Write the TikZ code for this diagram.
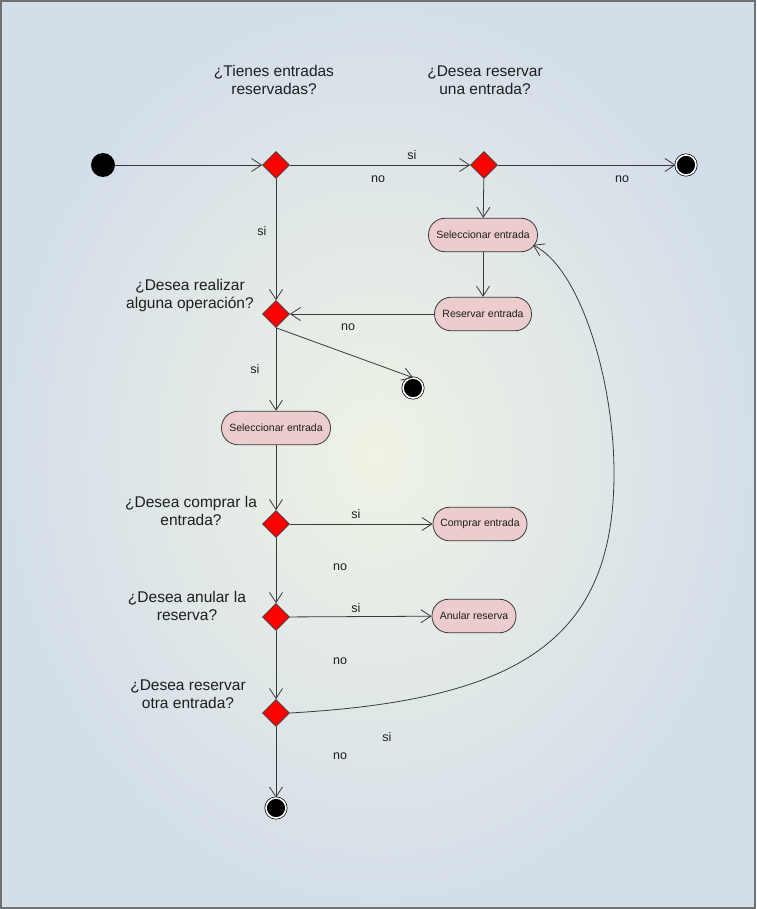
\documentclass[tikz,border=0pt]{standalone}
\usepackage{fontspec}
\setmainfont{Liberation Sans}
\usetikzlibrary{shapes.geometric,arrows.meta,calc}
\definecolor{bgin}{HTML}{EFF3E5}
\definecolor{bgout}{HTML}{D4DEE9}
\definecolor{framec}{HTML}{707070}
\definecolor{boxfill}{HTML}{ECCCCC}
\definecolor{linec}{HTML}{3A3A3A}
\definecolor{txtc}{HTML}{1E1E1E}
\begin{document}
\begin{tikzpicture}[x=1pt,y=-1pt,
  every node/.style={text=txtc},
  act/.style={draw=linec, fill=boxfill, line width=0.8pt, rounded corners=16.5pt,
    minimum height=33.5pt, inner sep=0pt, font=\fontsize{10.5}{12}\selectfont},
  dec/.style={diamond, draw=linec, fill=red, line width=0.6pt, minimum width=27pt,
    minimum height=27pt, inner sep=0pt},
  startnode/.style={circle, fill=black, minimum size=24pt, inner sep=0pt},
  endnode/.style={circle, fill=black, draw=black, line width=0.7pt, double=white,
    double distance=1.6pt, minimum size=20pt, inner sep=0pt},
  flow/.style={draw=linec, line width=0.8pt, -{Straight Barb[length=10pt,width=13pt]}},
  quest/.style={align=center, font=\fontsize{15.5}{18}\selectfont},
  lbl/.style={font=\fontsize{12.5}{14}\selectfont, inner sep=0pt}
]
\useasboundingbox (0,0) rectangle (756,909);
\shade[inner color=bgin, outer color=bgout] (1,1) rectangle (755,908);
\draw[framec, line width=2pt] (1,1) rectangle (755,908);

% questions
\node[quest] (q1) at (274,80) {¿Tienes entradas\\reservadas?};
\node[quest] (q2) at (485,80) {¿Desea reservar\\una entrada?};
\node[quest] (q3) at (190,295) {¿Desea realizar\\alguna operación?};
\node[quest] (q4) at (191,511) {¿Desea comprar la\\entrada?};
\node[quest] (q5) at (187,606) {¿Desea anular la\\reserva?};
\node[quest] (q6) at (188,694) {¿Desea reservar\\otra entrada?};

% nodes
\node[startnode] (start) at (103,165) {};
\node[dec] (d1) at (276,165) {};
\node[dec] (d2) at (484,165) {};
\node[endnode] (end1) at (686,165) {};
\node[act, minimum width=109pt] (sel1) at (483,235) {Seleccionar entrada};
\node[act, minimum width=97pt] (res) at (483,314) {Reservar entrada};
\node[dec] (d3) at (276,314) {};
\node[endnode] (end2) at (413,388) {};
\node[act, minimum width=109pt] (sel2) at (276,428) {Seleccionar entrada};
\node[dec] (d4) at (276,524) {};
\node[act, minimum width=94pt] (comprar) at (480,524) {Comprar entrada};
\node[dec] (d5) at (276,617) {};
\node[act, minimum width=84pt] (anular) at (474,616) {Anular reserva};
\node[dec] (d6) at (276,713) {};
\node[endnode] (end3) at (276,808) {};
\coordinate (loopend) at ($(sel1.east)+(-5,10)$);

% connectors
\draw[flow] (start) -- (d1);
\draw[flow] (d1) -- (d2);
\draw[flow] (d2) -- (end1);
\draw[flow] (d2) -- (sel1);
\draw[flow] (d1) -- (d3);
\draw[flow] (sel1) -- (res);
\draw[flow] (res) -- (d3);
\draw[flow] (d3.south) -- (end2.north);
\draw[flow] (d3) -- (sel2);
\draw[flow] (sel2) -- (d4);
\draw[flow] (d4) -- (comprar);
\draw[flow] (d4) -- (d5);
\draw[flow] (d5) -- (anular);
\draw[flow] (d5) -- (d6);
\draw[flow] (d6) -- (end3);
\draw[flow] (d6.east) .. controls (520,700) and (614,640) .. (614,473)
  .. controls (614,380) and (580,268) .. (loopend);

% labels
\node[lbl] (l1) at (412,155) {si};
\node[lbl] (l2) at (378,179) {no};
\node[lbl] (l3) at (622,179) {no};
\node[lbl] (l4) at (262,231) {si};
\node[lbl] (l5) at (348,327) {no};
\node[lbl] (l6) at (255,369) {si};
\node[lbl] (l7) at (356,514) {si};
\node[lbl] (l8) at (340,567) {no};
\node[lbl] (l9) at (356,608) {si};
\node[lbl] (l10) at (340,661) {no};
\node[lbl] (l11) at (387,737) {si};
\node[lbl] (l12) at (340,756) {no};
\end{tikzpicture}
\end{document}
